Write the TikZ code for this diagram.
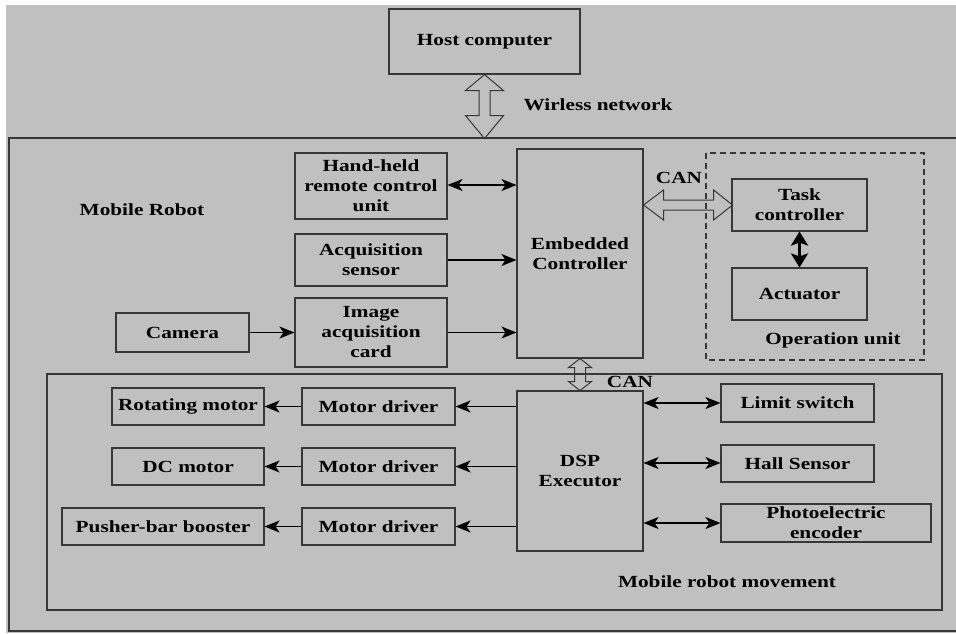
\documentclass[tikz,border=0pt]{standalone}
\usepackage{fontspec}
\setmainfont{Liberation Serif}[FakeStretch=1.25]
\usetikzlibrary{arrows.meta}
\definecolor{bg}{RGB}{192,192,192}
\definecolor{edge}{RGB}{55,55,55}
\tikzset{
  box/.style={draw=edge, line width=1.1pt, inner sep=0pt, align=center,
    font=\fontsize{17}{20}\selectfont\bfseries},
  lbl/.style={inner sep=0pt, align=center, font=\fontsize{17}{20}\selectfont\bfseries},
  tip/.style={},
  arr/.style={line width=1.3pt, -{Stealth[length=15pt,width=12pt,inset=4pt]}},
  darr/.style={line width=1.3pt, {Stealth[length=15pt,width=12pt,inset=4pt]}-{Stealth[length=15pt,width=12pt,inset=4pt]}},
  hollow/.style={draw=edge, line width=1pt, line join=miter},
}
\begin{document}
\begin{tikzpicture}[x=1pt,y=-1pt]
\useasboundingbox (0,0) rectangle (956,633);
\clip (0,0) rectangle (956,633);
\fill[white] (0,0) rectangle (956,633);
\fill[bg] (6,5) rectangle (956,633);
% outer boxes
\draw[edge, line width=1.3pt] (9,138) rectangle (970,631);
\draw[edge, line width=1.1pt] (47,374) rectangle (942,610);
\draw[edge, line width=1.1pt, dash pattern=on 6pt off 4pt] (706,153) rectangle (924,360);
% nodes
\node[box, minimum width=191pt, minimum height=65pt] (host) at (484.5,41.5) {Host computer};
\node[box, minimum width=152pt, minimum height=66pt] (hand) at (371,186) {Hand-held\\remote control\\unit};
\node[box, minimum width=152pt, minimum height=52pt] (acq) at (371,260) {Acquisition\\sensor};
\node[box, minimum width=152pt, minimum height=69pt] (img) at (371,332.5) {Image\\acquisition\\card};
\node[box, minimum width=133pt, minimum height=39pt] (cam) at (182.5,332.5) {Camera};
\node[box, minimum width=126pt, minimum height=209pt] (emb) at (580,253.5) {Embedded\\Controller};
\node[box, minimum width=135pt, minimum height=52pt] (task) at (799.5,205) {Task\\controller};
\node[box, minimum width=135pt, minimum height=52pt] (act) at (799.5,294) {Actuator};
\node[box, minimum width=126pt, minimum height=160pt] (dsp) at (580,471) {DSP\\Executor};
\node[box, minimum width=153pt, minimum height=38pt] (lim) at (797.5,403) {Limit switch};
\node[box, minimum width=153pt, minimum height=37pt] (hall) at (797.5,463.5) {Hall Sensor};
\node[box, minimum width=210pt, minimum height=38pt] (photo) at (826,523) {Photoelectric\\encoder};
\node[box, minimum width=153pt, minimum height=37pt] (md1) at (378.5,406.5) {Motor driver};
\node[box, minimum width=153pt, minimum height=37pt] (md2) at (378.5,466.5) {Motor driver};
\node[box, minimum width=153pt, minimum height=37pt] (md3) at (378.5,526.5) {Motor driver};
\node[box, minimum width=152pt, minimum height=37pt] (rot) at (188,406.5) {Rotating motor};
\node[box, minimum width=152pt, minimum height=37pt] (dc) at (188,466.5) {DC motor};
\node[box, minimum width=202pt, minimum height=37pt] (push) at (163,526.5) {Pusher-bar booster};
% labels
\node[lbl] (wl) at (598,105) {Wirless network};
\node[lbl] (mr) at (142,210) {Mobile Robot};
\node[lbl] (can1) at (679,178) {CAN};
\node[lbl] (ou) at (833,340) {Operation unit};
\node[lbl] (can2) at (630,382) {CAN};
\node[lbl] (mrm) at (727,582) {Mobile robot movement};
% arrows
\draw[darr] (hand.east |- 0,185) -- (emb.west |- 0,185);
\draw[arr] (acq.east) -- (emb.west |- acq.east);
\draw[arr] (img.east) -- (emb.west |- img.east);
\draw[arr] (cam) -- (img);
\draw[line width=3pt, {Stealth[length=14pt,width=17pt,inset=3pt]}-{Stealth[length=14pt,width=17pt,inset=3pt]}] (task.south) -- (act.north);
\draw[arr] (dsp.west |- md1) -- (md1.east);
\draw[arr] (dsp.west |- md2) -- (md2.east);
\draw[arr] (dsp.west |- md3) -- (md3.east);
\draw[arr] (md1) -- (rot);
\draw[arr] (md2) -- (dc);
\draw[arr] (md3) -- (push);
\draw[darr] (dsp.east |- lim) -- (lim.west);
\draw[darr] (dsp.east |- 0,463) -- (hall.west |- 0,463);
\draw[darr] (dsp.east |- photo) -- (photo.west);
% hollow double arrows
\coordinate (w1) at (host.south);
\draw[hollow] (w1) -- ++(19,16) -- ++(-13.5,0) -- ++(0,25) -- ++(13.5,0) -- ++(-19,23)
  -- ++(-19,-23) -- ++(13.5,0) -- ++(0,-25) -- ++(-13.5,0) -- cycle;
\coordinate (c1) at (emb.east |- 0,205);
\draw[hollow] (c1) -- ++(20,-15) -- ++(0,10) -- ++(50,0) -- ++(0,-10) -- ++(19,15)
  -- ++(-19,15) -- ++(0,-10) -- ++(-50,0) -- ++(0,10) -- cycle;
\coordinate (c2) at (emb.south);
\draw[hollow] (c2) -- ++(11.5,9) -- ++(-6,0) -- ++(0,14) -- ++(6,0) -- ++(-11.5,9)
  -- ++(-11.5,-9) -- ++(6,0) -- ++(0,-14) -- ++(-6,0) -- cycle;
\end{tikzpicture}
\end{document}
